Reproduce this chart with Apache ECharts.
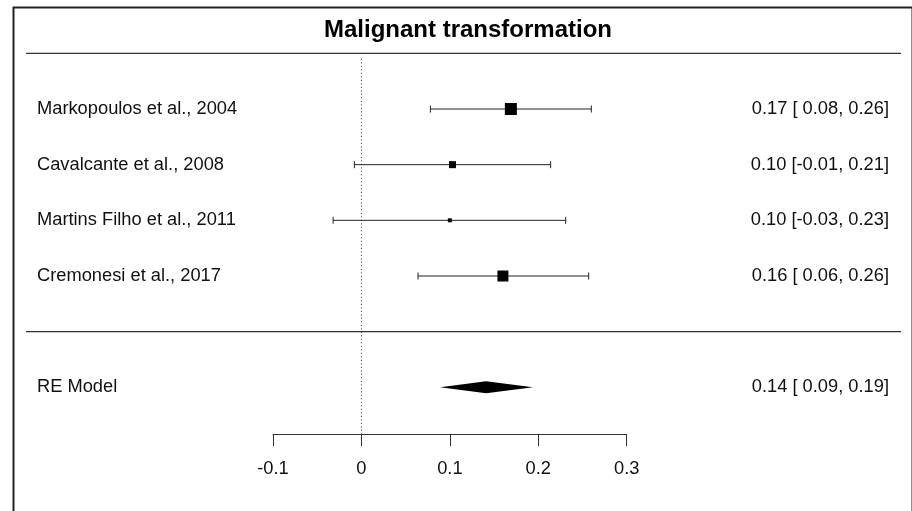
<!DOCTYPE html>
<html>
<head>
<meta charset="utf-8">
<script src="https://cdn.jsdelivr.net/npm/echarts@6/dist/echarts.min.js"></script>
<style>
html, body { margin: 0; padding: 0; background: #fff; }
#main { width: 912px; height: 511px; }
</style>
</head>
<body>
<div id="main"></div>
<script>
// studies, top to bottom
var studies = ['Markopoulos et al., 2004', 'Cavalcante et al., 2008', 'Martins Filho et al., 2011', 'Cremonesi et al., 2017'];
var estimate = [0.169, 0.103, 0.100, 0.160];
var lower = [0.078, -0.008, -0.032, 0.064];
var upper = [0.260, 0.214, 0.231, 0.257];
var boxSize = [12, 7, 4, 11];   // square size (weight)
var rows = [4, 3, 2, 1];

// pooled random-effects model
var modelLabel = 'RE Model';
var modelEst = 0.141;
var modelLo = 0.089;
var modelHi = 0.194;
var modelRow = -1;

var xTicks = [-0.1, 0, 0.1, 0.2, 0.3];

var FONT = '"Liberation Sans", Arial, Helvetica, sans-serif';
var TXT = '18.3px ' + FONT;

function pad(v) {
    var s = v.toFixed(2);
    return v < 0 ? s : ' ' + s;
}
function ciText(e, l, h) {
    return e.toFixed(2) + ' [' + pad(l) + ', ' + h.toFixed(2) + ']';
}

var studyData = [];
for (var i = 0; i < studies.length; i++) {
    studyData.push([estimate[i], lower[i], upper[i], rows[i], boxSize[i], i]);
}

var myChart = echarts.init(document.getElementById('main'), null, {renderer: 'canvas'});

var option = {
    animation: false,
    backgroundColor: '#fff',
    title: {
        text: 'Malignant transformation',
        left: 463,
        textAlign: 'center',
        top: 13,
        textStyle: {fontFamily: FONT, fontSize: 24, fontWeight: 'bold', color: '#000'}
    },
    graphic: [{
        type: 'rect',
        left: 11,
        top: 5,
        shape: {width: 899, height: 530},
        style: {fill: 'none', stroke: '#222', lineWidth: 2}
    }],
    grid: {left: 273, right: 285.3, top: 25.5, bottom: 76.9},
    xAxis: {
        type: 'value',
        min: xTicks[0],
        max: xTicks[xTicks.length - 1],
        interval: 0.1,
        splitLine: {show: false},
        axisLine: {show: true, onZero: false, lineStyle: {color: '#333', width: 1}},
        axisTick: {show: true, length: 12, lineStyle: {color: '#333', width: 1}},
        axisLabel: {
            fontFamily: FONT, fontSize: 18.3, color: '#111', margin: 26,
            formatter: function (v) { return String(+v.toFixed(1)); }
        }
    },
    yAxis: {type: 'value', min: -1.84, max: 5.5, show: false},
    series: [
        {
            // frame lines, reference line
            type: 'custom',
            data: [[0]],
            z: 1,
            renderItem: function (params, api) {
                var yTop = api.coord([0, rows[0] + 1])[1];
                var yMid = api.coord([0, 0])[1];
                var ref0 = api.coord([0, rows[0] + 0.9]);
                var ref1 = api.coord([0, -1.84]);
                return {
                    type: 'group',
                    children: [
                        {type: 'line', shape: {x1: 26, y1: yTop, x2: 901, y2: yTop}, style: {stroke: '#333', lineWidth: 1.3}},
                        {type: 'line', shape: {x1: 26, y1: yMid, x2: 901, y2: yMid}, style: {stroke: '#333', lineWidth: 1.3}},
                        {type: 'line', shape: {x1: ref0[0], y1: ref0[1], x2: ref1[0], y2: ref1[1]},
                         style: {stroke: '#333', lineWidth: 1, lineDash: [1, 2.5]}}
                    ]
                };
            }
        },
        {
            type: 'custom',
            data: studyData,
            z: 3,
            renderItem: function (params, api) {
                var e = api.value(0), l = api.value(1), h = api.value(2), r = api.value(3), s = api.value(4);
                var pe = api.coord([e, r]);
                var pl = api.coord([l, r]);
                var ph = api.coord([h, r]);
                var idx = api.value(5);
                return {
                    type: 'group',
                    children: [
                        {type: 'line', shape: {x1: pl[0], y1: pl[1], x2: ph[0], y2: ph[1]}, style: {stroke: '#222', lineWidth: 1}},
                        {type: 'line', shape: {x1: pl[0], y1: pl[1] - 3.5, x2: pl[0], y2: pl[1] + 3.5}, style: {stroke: '#222', lineWidth: 1}},
                        {type: 'line', shape: {x1: ph[0], y1: ph[1] - 3.5, x2: ph[0], y2: ph[1] + 3.5}, style: {stroke: '#222', lineWidth: 1}},
                        {type: 'rect', shape: {x: pe[0] - s / 2, y: pe[1] - s / 2, width: s, height: s}, style: {fill: '#000'}},
                        {type: 'text', style: {text: studies[idx], x: 37, y: pe[1], font: TXT, fill: '#111', align: 'left', verticalAlign: 'middle'}},
                        {type: 'text', style: {text: ciText(e, l, h), x: 889, y: pe[1], font: TXT, fill: '#111', align: 'right', verticalAlign: 'middle'}}
                    ]
                };
            }
        },
        {
            type: 'custom',
            data: [[modelEst, modelLo, modelHi, modelRow]],
            z: 3,
            renderItem: function (params, api) {
                var e = api.value(0), l = api.value(1), h = api.value(2), r = api.value(3);
                var pe = api.coord([e, r]);
                var pl = api.coord([l, r]);
                var ph = api.coord([h, r]);
                return {
                    type: 'group',
                    children: [
                        {type: 'polygon', shape: {points: [[pl[0], pl[1]], [pe[0], pe[1] - 6], [ph[0], ph[1]], [pe[0], pe[1] + 6]]}, style: {fill: '#000'}},
                        {type: 'text', style: {text: modelLabel, x: 37, y: pe[1], font: TXT, fill: '#111', align: 'left', verticalAlign: 'middle'}},
                        {type: 'text', style: {text: ciText(e, l, h), x: 889, y: pe[1], font: TXT, fill: '#111', align: 'right', verticalAlign: 'middle'}}
                    ]
                };
            }
        }
    ]
};
myChart.setOption(option);
</script>
</body>
</html>
